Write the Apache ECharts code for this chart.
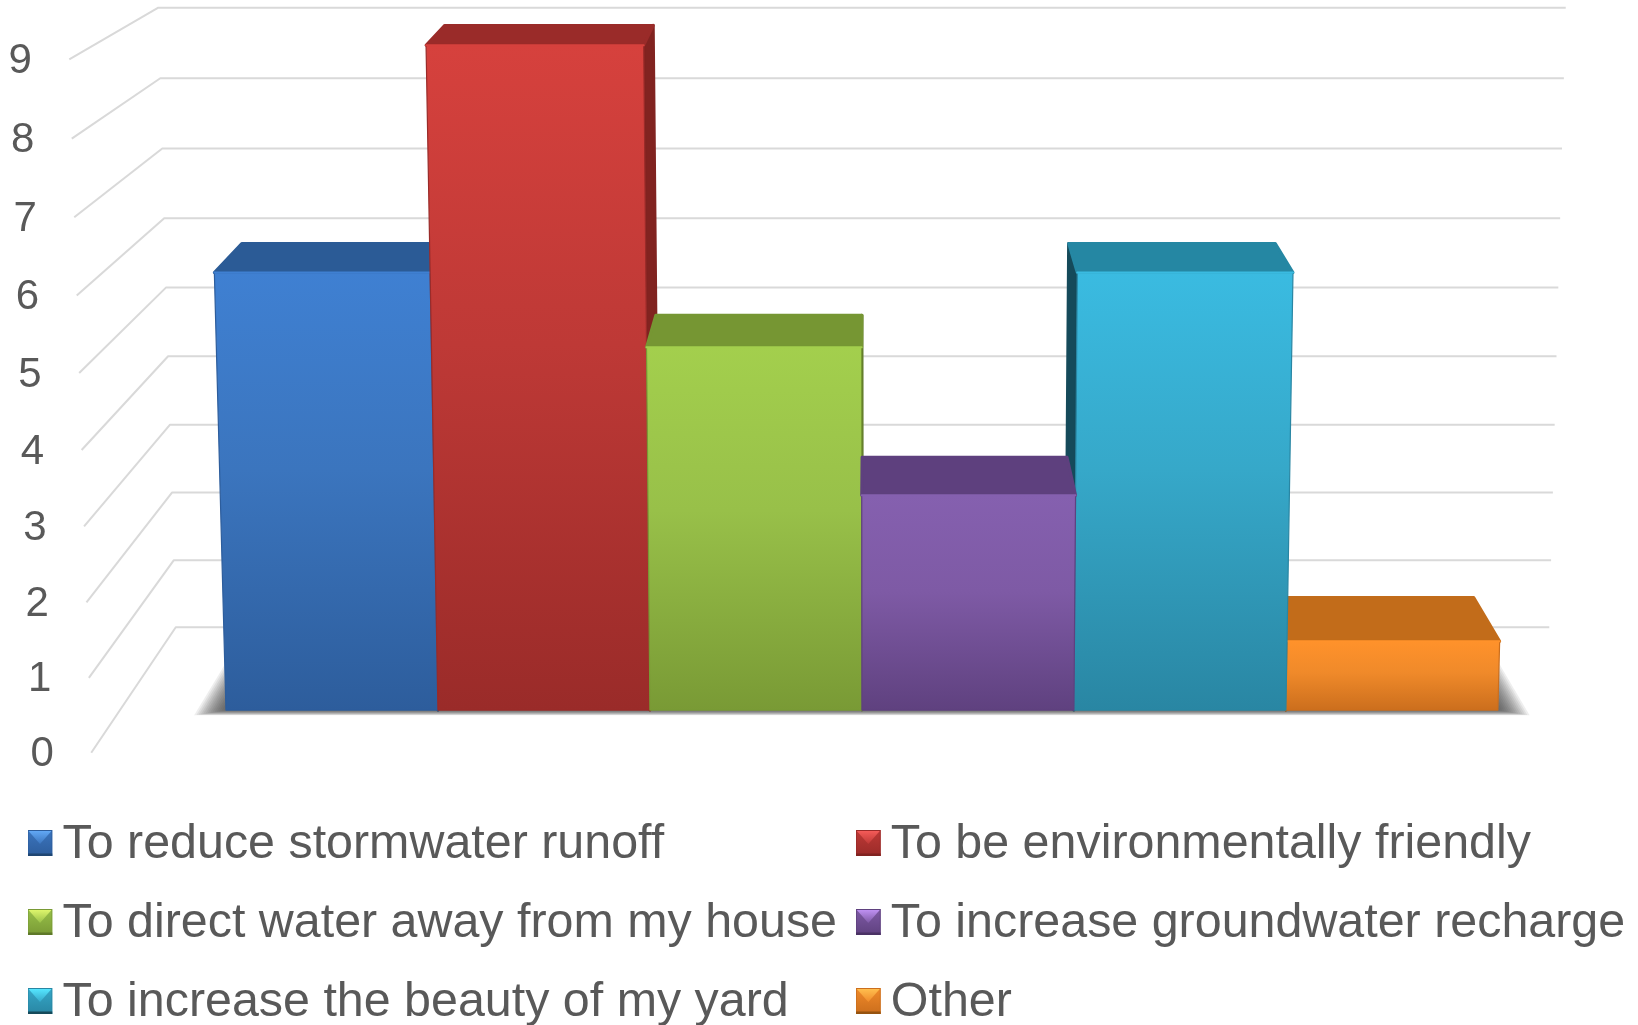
<!DOCTYPE html>
<html>
<head>
<meta charset="utf-8">
<title>Reasons for the project</title>
<script src="https://cdn.jsdelivr.net/npm/echarts@6/dist/echarts.min.js"></script>
<style>
  html, body { margin: 0; padding: 0; background: #fff; }
  #chart { width: 1638px; height: 1025px; }
</style>
</head>
<body>
<div id="chart"></div>
<script>
// Chart data
const categories = [
  'To reduce stormwater runoff',
  'To be environmentally friendly',
  'To direct water away from my house',
  'To increase groundwater recharge',
  'To increase the beauty of my yard',
  'Other'
];
const values = [6, 9, 5, 3, 6, 1];
const yTicks = [0, 1, 2, 3, 4, 5, 6, 7, 8, 9];

// Face colours per bar: front gradient, top face, side face, legend highlight
const palette = [
  { hi: '#3F80D2', mid: '#3B75BE', lo: '#2D5D9C', top: '#2B5B96', side: '#1F4672', glow: '#62A8F5' },
  { hi: '#D6413D', mid: '#BE3936', lo: '#9A2B29', top: '#9A2B29', side: '#812320', glow: '#F45B58' },
  { hi: '#A3CF4D', mid: '#98C049', lo: '#799A35', top: '#769633', side: '#5E7829', glow: '#DDF56C' },
  { hi: '#8560AF', mid: '#7E5AA5', lo: '#5F417F', top: '#5E407E', side: '#4A3264', glow: '#BE90F2' },
  { hi: '#3ABBE1', mid: '#36A8C9', lo: '#2986A3', top: '#2587A3', side: '#154A5A', glow: '#55E6FF' },
  { hi: '#FF922B', mid: '#F08A2A', lo: '#CB6E1D', top: '#C26C1A', side: '#96530F', glow: '#FFBE4E' }
];

const GRID_COLOR = '#D9D9D9';
const TEXT_COLOR = '#595959';
const FONT = '"Liberation Sans", Arial, sans-serif';

// Perspective of the 3D box. Depth runs 0 (front of the walls) to 1 (back wall).
const VIEW = { tiltX: -0.003, tiltY: -0.0035, tiltZ: 0.1217, shearY: -2.65, shiftZ: 105.9, riseZ: -49.1 };
const BAR_FRONT = 0.3145;
const BAR_BACK = 0.68;
const WALL_LEFT = -0.5;
const WALL_RIGHT = 6.5;
// The rounded bevel of each bar pulls its visible top edge down by a few pixels
const BEVEL_FRONT = 3.5;
const BEVEL_BACK = 2.5;

// Projects a data point at a given depth through the grid's own scales.
function project(api, x, y, z) {
  const p = api.coord([x, y]);
  const wx = 1 + VIEW.tiltX * y + VIEW.tiltZ * z;
  const wy = 1 + VIEW.tiltY * y + VIEW.tiltZ * z;
  return [(p[0] + VIEW.shearY * y + VIEW.shiftZ * z) / wx, (p[1] + VIEW.riseZ * z) / wy];
}

function renderWall(params, api) {
  const v = api.value(0);
  const front = project(api, WALL_LEFT, v, 0);
  const backL = project(api, WALL_LEFT, v, 1);
  const backR = project(api, WALL_RIGHT, v, 1);
  return {
    type: 'group',
    children: [
      {
        type: 'polyline',
        shape: { points: [front, backL, backR] },
        style: { stroke: GRID_COLOR, lineWidth: 2, fill: null, lineJoin: 'round' }
      },
      {
        type: 'text',
        style: {
          x: front[0] - 37.5, y: front[1] + 2, text: String(v),
          font: '42px ' + FONT, fill: TEXT_COLOR, align: 'right', verticalAlign: 'middle'
        }
      }
    ]
  };
}

// Soft contact shadow on the floor: nested translucent trapezoids fade outward
function renderFloorShadow(params, api) {
  const first = 0, last = categories.length, layers = 14;
  const children = [];
  for (let k = layers; k >= 1; k--) {
    const t = k / layers;
    const ex = 0.135 * t;
    const zFront = BAR_FRONT - 0.04 * t;
    const zBack = BAR_BACK - 0.12 * (1 - t);
    children.push({
      type: 'polygon',
      shape: {
        points: [
          project(api, first - ex, 0, zFront),
          project(api, last + ex, 0, zFront),
          project(api, last + ex, 0, zBack),
          project(api, first - ex, 0, zBack)
        ]
      },
      style: { fill: 'rgba(60,60,60,0.085)', shadowBlur: 3, shadowColor: 'rgba(60,60,60,0.06)' }
    });
  }
  return { type: 'group', children };
}

function makeBarRenderer(i) {
  const c = palette[i];
  return function (params, api) {
    const x0 = api.value(0), x1 = x0 + 1, v = api.value(1);
    const lower = (p, d) => [p[0], p[1] + d];
    const fbl = project(api, x0, 0, BAR_FRONT), fbr = project(api, x1, 0, BAR_FRONT);
    const ftl = lower(project(api, x0, v, BAR_FRONT), BEVEL_FRONT);
    const ftr = lower(project(api, x1, v, BAR_FRONT), BEVEL_FRONT);
    const bbl = project(api, x0, 0, BAR_BACK), bbr = project(api, x1, 0, BAR_BACK);
    const btl = lower(project(api, x0, v, BAR_BACK), BEVEL_BACK);
    const btr = lower(project(api, x1, v, BAR_BACK), BEVEL_BACK);
    const face = (pts, col) => ({
      type: 'polygon', shape: { points: pts },
      style: { fill: col, stroke: col, lineWidth: 3, lineJoin: 'round' }
    });
    const children = [];
    if (btl[0] < ftl[0]) children.push(face([ftl, btl, bbl, fbl], c.side));
    if (btr[0] > ftr[0]) children.push(face([ftr, btr, bbr, fbr], c.side));
    children.push(face([ftl, ftr, btr, btl], c.top));
    children.push({
      type: 'polygon', shape: { points: [ftl, ftr, fbr, fbl] },
      style: {
        fill: new echarts.graphic.LinearGradient(0, 0, 0, 1, [
          { offset: 0, color: c.hi },
          { offset: 0.45, color: c.mid },
          { offset: 1, color: c.lo }
        ]),
        stroke: c.lo, lineWidth: 1.2, lineJoin: 'round'
      }
    });
    children.push({
      type: 'polyline', shape: { points: [ftl, ftr] },
      style: { stroke: c.hi, lineWidth: 2, fill: null, lineCap: 'round' }
    });
    return { type: 'group', children };
  };
}

// Bevelled legend swatch, an inline SVG with spare room below so it sits a little above the text centre
function swatch(c) {
  const svg =
    '<svg xmlns="http://www.w3.org/2000/svg" width="25" height="30">' +
    '<defs>' +
    '<linearGradient id="b" x1="0" y1="0" x2="0" y2="1">' +
    '<stop offset="0" stop-color="' + c.mid + '"/><stop offset="1" stop-color="' + c.lo + '"/>' +
    '</linearGradient>' +
    '<linearGradient id="t" x1="0" y1="0" x2="0" y2="1">' +
    '<stop offset="0" stop-color="' + c.glow + '"/><stop offset="1" stop-color="' + c.mid + '"/>' +
    '</linearGradient>' +
    '</defs>' +
    '<rect width="25" height="26" fill="url(#b)"/>' +
    '<polygon points="1,1 24,1 12.5,14" fill="url(#t)"/>' +
    '<rect x="0.5" y="0.5" width="24" height="25" fill="none" stroke="' + c.lo + '"/>' +
    '<rect x="0" y="23.5" width="25" height="2.5" fill="' + c.side + '"/>' +
    '</svg>';
  return 'image://data:image/svg+xml,' + encodeURIComponent(svg);
}

function legendColumn(left, indexes) {
  return {
    orient: 'vertical', left: left, top: 821, height: 260, padding: 0,
    itemWidth: 25, itemHeight: 30, itemGap: 31, selectedMode: false,
    textStyle: { color: TEXT_COLOR, fontSize: 48.4, fontFamily: FONT, padding: [0, 0, 0, 5] },
    data: indexes.map(i => ({ name: categories[i], icon: swatch(palette[i]) }))
  };
}

const chart = echarts.init(document.getElementById('chart'), null, { renderer: 'canvas' });
chart.setOption({
  animation: false,
  backgroundColor: '#ffffff',
  grid: { left: 91.25, top: 57.45, width: 1540.7, height: 695.25 },
  xAxis: { type: 'value', min: -0.5, max: 6.5, show: false },
  yAxis: { type: 'value', min: 0, max: 9, interval: 1, show: false },
  legend: [legendColumn(27.5, [0, 2, 4]), legendColumn(855.8, [1, 3, 5])],
  series: [
    {
      type: 'custom', name: 'walls', silent: true, z: 1,
      encode: { y: 0 },
      data: yTicks.map(v => [v]),
      renderItem: renderWall
    },
    {
      type: 'custom', name: 'floor', silent: true, z: 2,
      data: [[0]],
      renderItem: renderFloorShadow
    }
  ].concat(categories.map((name, i) => ({
    type: 'custom',
    name: name,
    silent: true,
    // Bars nearest the vanishing point are painted last
    z: 6 - Math.abs(i - 2.5),
    itemStyle: { color: palette[i].mid },
    encode: { x: 0, y: 1 },
    data: [[i, values[i]]],
    renderItem: makeBarRenderer(i)
  })))
});
</script>
</body>
</html>
